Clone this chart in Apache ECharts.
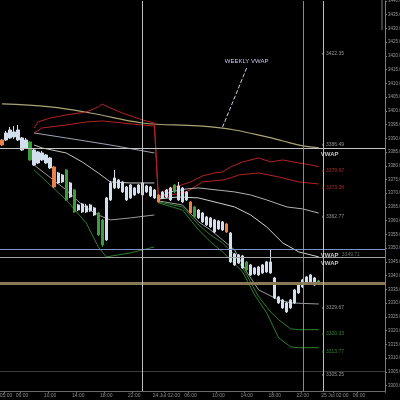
<!DOCTYPE html>
<html><head><meta charset="utf-8">
<script src="https://cdn.jsdelivr.net/npm/echarts@6/dist/echarts.min.js"></script>
<style>html,body{margin:0;padding:0;background:#000}#c{width:400px;height:400px}</style>
</head><body><div id="c"></div>
<script>
// ---------- data ----------
const SLOTS = 96;
const tickSlots = [1,5,12,19,26,33,41,47,54,61,68,75,83,89];
const tickLabels = ["05:00","06:00","10:00","14:00","18:00","22:00","24 Jul 02:00","06:00","10:00","14:00","18:00","22:00","25 Jul 02:00","06:00"];
const yTicks = [3300,3305,3310,3315,3320,3325,3330,3335,3340,3345,3350,3355,3360,3365,3370,3375,3380,3385,3390,3395,3400,3405,3410,3415,3420,3425,3430,3435,3440];

// candles: [open, close, low, high]
const candles = [
 [3389.40,3387.58,3387.22,3389.77],[3389.40,3391.95,3389.04,3392.68],[3390.13,3393.04,3389.77,3394.14],[3392.32,3390.50,3389.77,3394.50],
 [3389.40,3393.04,3389.04,3394.86],[3390.13,3385.76,3385.40,3390.50],[3386.49,3389.40,3386.12,3390.13],[3388.68,3382.12,3381.76,3389.04],
 [3385.76,3380.30,3379.94,3386.12],[3381.03,3385.04,3380.67,3385.40],[3384.67,3382.12,3381.76,3385.40],[3383.94,3381.03,3380.67,3384.31],
 [3382.85,3379.21,3378.85,3383.22],[3379.58,3372.30,3371.93,3379.94],[3373.75,3377.39,3373.39,3377.76],[3376.66,3374.12,3373.75,3377.03],
 [3378.48,3367.56,3367.20,3378.85],[3368.66,3373.75,3368.29,3374.12],[3371.20,3363.20,3362.83,3371.57],[3363.92,3365.74,3363.56,3366.11],
 [3366.11,3363.20,3362.83,3366.47],[3363.20,3365.38,3362.83,3366.11],[3365.74,3363.56,3363.20,3366.11],[3364.65,3362.10,3361.74,3365.02],
 [3362.83,3354.82,3354.46,3363.20],[3360.28,3351.18,3350.46,3360.65],[3353.00,3368.29,3352.64,3368.66],[3367.56,3373.75,3367.20,3374.48],
 [3371.93,3375.57,3371.57,3378.48],[3374.84,3371.93,3371.57,3375.21],[3374.12,3370.48,3370.11,3374.48],[3372.30,3367.56,3367.20,3372.66],
 [3368.29,3373.02,3367.93,3373.39],[3371.93,3369.38,3369.02,3372.30],[3370.11,3373.02,3369.75,3373.39],[3373.75,3369.38,3369.02,3374.12],
 [3370.48,3372.66,3370.11,3373.02],[3372.30,3369.02,3368.66,3372.66],[3371.20,3368.29,3367.93,3371.57],
 [3369.38,3366.84,3366.47,3369.75],[3368.29,3370.48,3367.93,3370.84],[3368.66,3371.20,3368.29,3371.57],[3367.56,3371.93,3367.20,3372.30],
 [3373.02,3370.48,3370.11,3373.39],[3367.56,3372.66,3367.20,3374.12],[3371.93,3366.84,3366.47,3372.30],[3370.48,3367.56,3367.20,3370.84],
 [3366.84,3362.83,3362.47,3367.20],[3365.02,3361.38,3361.01,3365.38],[3361.01,3363.92,3360.65,3364.29],[3362.83,3359.56,3359.19,3363.20],
 [3358.46,3361.38,3358.10,3361.74],[3361.01,3357.74,3357.37,3361.38],[3360.28,3355.92,3355.55,3360.65],[3357.01,3359.92,3356.64,3360.28],
 [3359.56,3356.64,3356.28,3359.92],[3355.92,3358.83,3355.55,3359.19],[3355.55,3345.00,3344.63,3355.92],[3343.90,3347.91,3343.54,3348.27],
 [3347.54,3344.63,3344.27,3347.91],[3347.18,3342.81,3342.45,3347.54],[3342.08,3345.00,3341.72,3345.36],[3343.90,3340.26,3339.90,3344.27],
 [3340.63,3342.81,3340.26,3343.18],[3343.18,3340.26,3339.90,3343.54],[3340.99,3343.90,3340.63,3344.27],[3341.36,3345.00,3340.99,3345.36],
 [3345.00,3340.99,3340.63,3349.36],[3339.17,3331.89,3331.52,3339.54],[3332.26,3330.07,3329.70,3332.62],[3331.16,3328.25,3327.89,3331.52],
 [3330.07,3326.80,3326.43,3330.44],[3328.25,3331.16,3327.89,3331.52],[3330.07,3334.80,3329.70,3335.17],[3333.71,3336.62,3333.35,3336.99],
 [3335.90,3338.44,3335.53,3338.81],[3337.35,3339.54,3336.99,3339.90],[3337.72,3340.26,3337.35,3340.63],[3339.17,3336.62,3336.26,3339.54],
 [3338.08,3337.35,3336.62,3338.44]
];
const candleTone = ["o","w","w","w","w","w","w","g","w","w","w","w","w","o","w","w","g","w","g","w",
 "w","w","w","w","g","g","w","w","w","w","w","w","w","w","w","w","w","w","w",
 "o","w","w","w","g","w","w","w","o","g","w","w","w","w","w","w","w","o","w","w",
 "w","w","g","w","w","w","w","w","w","w","w","w","w","w","w","w","w","w","w","w"];

// VWAP bands: [slot, price]
const weeklyVwap = [[0,3402.51],[12,3401.42],[22,3399.23],[35,3395.59],[49,3394.50],[58,3393.04],[66,3390.50],[70,3389.04],[75,3387.22],[79,3386.49]];
const redUpper = [[8,3393.77],[9,3395.96],[12,3397.41],[16,3398.50],[21,3399.60],[24,3401.42],[25,3402.51],[27,3401.05],[30,3399.23],[35,3396.68],[38,3395.59],
 [39,3368.66],[41,3371.20],[44,3372.66],[47,3374.12],[50,3376.30],[53,3377.39],[55,3377.76],[57,3379.58],[60,3381.40],[64,3382.85],[67,3381.40],[70,3382.12],[74,3381.03],[77,3380.30],[79,3379.67]];
const redLower = [[8,3391.95],[10,3393.77],[16,3394.86],[21,3395.96],[25,3396.32],[30,3395.59],[35,3394.86],[38,3394.50],
 [39,3367.56],[42,3369.38],[46,3370.48],[50,3374.12],[55,3374.84],[57,3375.57],[59,3376.66],[64,3377.39],[69,3375.94],[74,3374.12],[79,3373.38]];
const day1A = [[8,3391.95],[16,3390.13],[27,3387.58],[38,3384.67]];
const day1B = [[8,3387.58],[10,3386.49],[16,3384.67],[20,3381.40],[24,3377.39],[27,3374.12],[32,3373.75],[38,3373.75]];
const day1C = [[8,3380.30],[16,3371.20],[20,3365.74],[24,3362.10],[27,3360.28],[32,3361.01],[38,3362.10]];
const day1D = [[8,3378.48],[16,3367.56],[21,3359.19],[24,3350.46],[26,3346.82],[32,3348.27],[38,3350.46]];
const day2E = [[39,3368.29],[42,3370.48],[46,3371.57],[49,3371.93],[58,3370.48],[62,3369.38],[66,3367.56],[71,3365.02],[75,3364.29],[79,3362.77]];
const day2F = [[39,3367.93],[44,3368.66],[49,3368.29],[58,3365.02],[62,3362.10],[66,3357.74],[70,3351.91],[74,3348.64],[79,3346.82]];
const day2G = [[39,3367.20],[45,3365.74],[49,3359.56],[52,3356.64],[55,3353.00],[58,3349.36],[61,3341.36],[64,3334.80],[69,3331.16],[72,3330.07],[79,3329.67]];
const day2H = [[39,3366.84],[45,3365.02],[49,3358.46],[52,3354.82],[55,3351.91],[58,3347.54],[61,3340.26],[64,3332.26],[67,3326.80],[69,3323.88],[72,3320.61],[74,3320.33],[79,3320.33]];
const day2I = [[39,3366.47],[45,3363.92],[49,3356.64],[52,3352.28],[55,3348.64],[60,3341.36],[63,3332.98],[66,3326.43],[69,3317.33],[72,3314.06],[74,3313.77],[79,3313.77]];

// horizontal levels and tags
const hLevels = [3386.49, 3349.71, 3346.60, 3337.25, 3305.25];
const tagValues = [3422.35, 3386.49, 3379.67, 3373.38, 3362.77, 3329.67, 3320.33, 3313.77, 3305.25];
const tagTone = ["gray","gray","red","red","gray","gray","green","green","gray"];
const tagAbove = [false, true, false, false, false, false, false, false, false];
const vwapTags = [3386.49, 3349.71, 3346.60];
const lastPrice = 3337.25;
const askPrice = 3339.50;
const sessionMarks = [35, 75.3, 79.5];
const weeklyLabelAt = [61, 3418.2];
const weeklyPointer = [[61, 3415.6], [55, 3394.1]];

// ---------- chart ----------
const FONT = 'Liberation Sans';
const toneColor = {w:'#d3dfec', g:'#3d9c3d', o:'#e8834b'};
const tagColor = {gray:'#b5b5b5', red:'#d23a3a', green:'#3fa33f'};
const cats = []; for (let i = 0; i < SLOTS; i++) cats.push(String(i));
const candleData = candles.map((v, i) => {
  const c = toneColor[candleTone[i]];
  return {value: v, itemStyle: {color: c, color0: c, borderColor: c, borderColor0: c}};
});
function band(data, color, width, smooth) {
  return {type: 'line', data, symbol: 'none', showSymbol: false, smooth: smooth || false,
    lineStyle: {color, width: width || 1}, z: 2, silent: true};
}
const hStyles = [
  {color: '#c4c4c4', width: 1}, {color: '#7f90c4', width: 1}, {color: '#a3a3a3', width: 1},
  {color: '#8a7957', width: 3}, {color: '#3a3a3a', width: 1}
];
const markLines = hLevels.map((v, i) => ({yAxis: v, lineStyle: Object.assign({type: 'solid'}, hStyles[i])}));
sessionMarks.forEach((x, i) => markLines.push({xAxis: x, lineStyle: {type: 'solid', color: i === 1 ? '#8a8a8a' : '#bdbdbd', width: 1}}));
markLines.push({yAxis: askPrice, lineStyle: {opacity: 0},
  label: {show: true, position: 'end', distance: 1, formatter: askPrice.toFixed(2), backgroundColor: '#2f8f3f', color: '#0d2a10', fontSize: 5, fontFamily: FONT, padding: [2, 2]}});
markLines.push({yAxis: lastPrice, lineStyle: {opacity: 0},
  label: {show: true, position: 'end', distance: 1, formatter: lastPrice.toFixed(2), backgroundColor: '#ee8a55', color: '#2a1205', fontSize: 5, fontFamily: FONT, padding: [2, 2]}});
markLines.push([{coord: weeklyPointer[0]}, {coord: weeklyPointer[1]}]);

const option = {
  backgroundColor: '#000',
  animation: false,
  grid: {left: 0, right: 15, top: 1, bottom: 9, containLabel: false, outerBoundsMode: 'none'},
  xAxis: {
    type: 'category', data: cats, boundaryGap: true,
    axisLine: {lineStyle: {color: '#6a6a6a'}},
    axisTick: {show: true, interval: (i) => tickSlots.includes(i), length: 2, lineStyle: {color: '#6a6a6a'}},
    axisLabel: {interval: (i) => tickSlots.includes(i), formatter: (v, i) => tickLabels[tickSlots.indexOf(i)] || '',
      color: '#8c8c8c', fontSize: 5, fontFamily: FONT, margin: 2, hideOverlap: false},
    splitLine: {show: false}
  },
  yAxis: {
    type: 'value', position: 'right', min: 3298, max: 3440, scale: true,
    axisLine: {show: true, lineStyle: {color: '#7a7a7a'}},
    axisTick: {show: true, length: 2, customValues: yTicks, lineStyle: {color: '#7a7a7a'}},
    axisLabel: {customValues: yTicks, formatter: (v) => v.toFixed(2), color: '#9a9a9a', fontSize: 4.5, fontFamily: FONT, margin: 3},
    splitLine: {show: false}
  },
  series: [
    band(weeklyVwap, '#aaa474', 1.2, 0.4),
    band(redUpper, '#b52222', 1),
    band(redLower, '#b52222', 1),
    band(day1A, '#9aa3b0', 1),
    band(day1B, '#c2c2c2', 1),
    band(day1C, '#9a9a9a', 1),
    band(day1D, '#2e7d2e', 1),
    band(day2E, '#b0b0b0', 1),
    band(day2F, '#cfcfcf', 1),
    band(day2G, '#9c9c9c', 1),
    band(day2H, '#2e7d2e', 1),
    band(day2I, '#2e7d2e', 1),
    {
      type: 'candlestick', data: candleData, barWidth: 2.8, z: 3, silent: true,
      markLine: {silent: true, symbol: ['none', 'none'], label: {show: false}, data: markLines,
        lineStyle: {color: '#cfcbe8', width: 1, curveness: 0.12}},
      markPoint: {silent: true, symbol: 'circle', symbolSize: 0, data: [{coord: weeklyLabelAt,
        label: {show: true, position: 'inside', formatter: 'WEEKLY VWAP', color: '#c9c1f2', fontSize: 6, fontFamily: FONT}}]}
    },
    {
      type: 'scatter', symbolSize: 0, silent: true, z: 5,
      data: tagValues.map((v, i) => ({value: [79, v], label: {color: tagColor[tagTone[i]], offset: [0, tagAbove[i] ? -3 : 4]}})),
      label: {show: true, position: 'right', distance: 3, fontSize: 5, fontFamily: FONT, align: 'left',
        formatter: (p) => '« ' + p.value[1].toFixed(2)}
    },
    {
      type: 'scatter', symbolSize: 0, silent: true, z: 5,
      data: vwapTags.map((v) => ({value: [79, v]})),
      label: {show: true, position: 'right', distance: 2, offset: [0, 6], fontFamily: FONT, align: 'left',
        formatter: (p) => p.dataIndex === 1 ? '{a|VWAP} {b|' + p.value[1].toFixed(2) + '}' : '{a|VWAP}',
        rich: {a: {color: '#f2f2f2', fontSize: 6, fontWeight: 'bold', fontFamily: FONT, align: 'left'}, b: {color: '#8a8a8a', fontSize: 5, fontFamily: FONT, align: 'left'}}}
    }
  ],
  graphic: [
    {type: 'line', shape: {x1: 382, y1: 0, x2: 382, y2: 30}, style: {stroke: '#7a7a7a', lineWidth: 1}, silent: true}
  ]
};
const chart = echarts.init(document.getElementById('c'), null, {renderer: 'canvas'});
chart.setOption(option);
</script></body></html>
